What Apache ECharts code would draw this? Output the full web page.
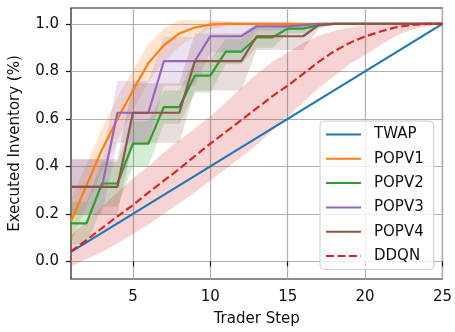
<!DOCTYPE html>
<html>
<head>
<meta charset="utf-8">
<script src="https://cdn.jsdelivr.net/npm/echarts@6/dist/echarts.min.js"></script>
<style>
  html, body { margin: 0; padding: 0; background: #fff; }
  #chart { width: 455px; height: 332px; }
</style>
</head>
<body>
<div id="chart"></div>
<script>
// trader steps 1..25
const steps = [1, 2, 3, 4, 5, 6, 7, 8, 9, 10, 11, 12, 13, 14, 15, 16, 17, 18, 19, 20, 21, 22, 23, 24, 25];

const twap = [0.04, 0.08, 0.12, 0.16, 0.20, 0.24, 0.28, 0.32, 0.36, 0.40, 0.44, 0.48, 0.52, 0.56, 0.60, 0.64, 0.68, 0.72, 0.76, 0.80, 0.84, 0.88, 0.92, 0.96, 1.00];

const popv1 = [0.17, 0.32, 0.47, 0.60, 0.72, 0.835, 0.91, 0.96, 0.985, 0.997, 1, 1, 1, 1, 1, 1, 1, 1, 1, 1, 1, 1, 1, 1, 1];
const popv1Lo = [0.08, 0.23, 0.38, 0.51, 0.635, 0.755, 0.84, 0.905, 0.95, 0.977, 0.99, 0.995, 1, 1, 1, 1, 1, 1, 1, 1, 1, 1, 1, 1, 1];
const popv1Hi = [0.26, 0.41, 0.56, 0.69, 0.805, 0.915, 0.98, 1.015, 1.015, 1.015, 1.01, 1.005, 1, 1, 1, 1, 1, 1, 1, 1, 1, 1, 1, 1, 1];

const popv2 = [0.16, 0.16, 0.328, 0.328, 0.496, 0.496, 0.65, 0.65, 0.782, 0.782, 0.883, 0.883, 0.943, 0.943, 0.98, 0.98, 0.995, 1, 1, 1, 1, 1, 1, 1, 1];
const popv2Lo = [0.07, 0.07, 0.23, 0.23, 0.40, 0.40, 0.58, 0.58, 0.71, 0.71, 0.83, 0.83, 0.90, 0.90, 0.96, 0.96, 0.985, 1, 1, 1, 1, 1, 1, 1, 1];
const popv2Hi = [0.25, 0.25, 0.42, 0.42, 0.59, 0.59, 0.72, 0.72, 0.85, 0.85, 0.935, 0.935, 0.985, 0.985, 1.0, 1.0, 1.0, 1, 1, 1, 1, 1, 1, 1, 1];

const popv3 = [0.314, 0.314, 0.314, 0.626, 0.626, 0.626, 0.843, 0.843, 0.843, 0.948, 0.948, 0.948, 0.99, 0.99, 0.99, 0.995, 1, 1, 1, 1, 1, 1, 1, 1, 1];
const popv3Lo = [0.20, 0.20, 0.20, 0.50, 0.50, 0.50, 0.74, 0.74, 0.74, 0.88, 0.88, 0.88, 0.97, 0.97, 0.97, 0.985, 1, 1, 1, 1, 1, 1, 1, 1, 1];
const popv3Hi = [0.43, 0.43, 0.43, 0.76, 0.76, 0.76, 0.945, 0.945, 0.945, 1.01, 1.01, 1.01, 1.01, 1.01, 1.01, 1.005, 1, 1, 1, 1, 1, 1, 1, 1, 1];

const popv4 = [0.314, 0.314, 0.314, 0.314, 0.626, 0.626, 0.626, 0.626, 0.843, 0.843, 0.843, 0.843, 0.948, 0.948, 0.948, 0.948, 0.995, 1, 1, 1, 1, 1, 1, 1, 1];
const popv4Lo = [0.20, 0.20, 0.20, 0.20, 0.50, 0.50, 0.50, 0.50, 0.72, 0.72, 0.72, 0.72, 0.89, 0.89, 0.89, 0.89, 0.98, 1, 1, 1, 1, 1, 1, 1, 1];
const popv4Hi = [0.43, 0.43, 0.43, 0.43, 0.75, 0.75, 0.75, 0.75, 0.96, 0.96, 0.96, 0.96, 1.0, 1.0, 1.0, 1.0, 1.005, 1, 1, 1, 1, 1, 1, 1, 1];

const ddqn = [0.042, 0.09, 0.14, 0.19, 0.237, 0.29, 0.34, 0.39, 0.443, 0.496, 0.545, 0.595, 0.645, 0.695, 0.74, 0.79, 0.84, 0.885, 0.92, 0.947, 0.968, 0.986, 0.995, 1.0, 1.0];
const ddqnLo = [-0.021, 0.01, 0.04, 0.075, 0.115, 0.155, 0.2, 0.245, 0.29, 0.34, 0.39, 0.44, 0.49, 0.55, 0.61, 0.67, 0.73, 0.78, 0.83, 0.87, 0.91, 0.95, 0.975, 0.99, 1.0];
const ddqnHi = [0.11, 0.17, 0.23, 0.29, 0.35, 0.40, 0.46, 0.51, 0.56, 0.61, 0.67, 0.73, 0.79, 0.84, 0.88, 0.92, 0.95, 0.97, 0.985, 0.995, 1, 1, 1, 1, 1];

const xTicks = [5, 10, 15, 20, 25];
const yTicks = [0, 0.2, 0.4, 0.6, 0.8, 1.0];

const FONT = 'DejaVu Sans';
const colors = {
  TWAP: '#1f77b4',
  POPV1: '#ff7f0e',
  POPV2: '#2ca02c',
  POPV3: '#9467bd',
  POPV4: '#8c564b',
  DDQN: '#d62728'
};

function fade(hex, a) {
  const n = parseInt(hex.slice(1), 16);
  return 'rgba(' + (n >> 16) + ',' + ((n >> 8) & 255) + ',' + (n & 255) + ',' + a + ')';
}

// shaded band drawn as one polygon through the axis scales
function band(name, lo, hi, color) {
  return {
    type: 'custom',
    name: name + ' band',
    z: 1,
    silent: true,
    data: steps.map((s, i) => [s, lo[i], hi[i]]),
    encode: { x: 0, y: [1, 2] },
    renderItem: function (params, api) {
      if (params.dataIndex !== 0) return;
      const top = [], bot = [];
      for (let i = 0; i < steps.length; i++) {
        top.push(api.coord([steps[i], hi[i]]));
        bot.push(api.coord([steps[i], lo[i]]));
      }
      return {
        type: 'polygon',
        shape: { points: top.concat(bot.reverse()) },
        style: { fill: fade(color, 0.2) }
      };
    }
  };
}

function line(name, vals, dashed) {
  return {
    type: 'line',
    name: name,
    z: 3,
    symbol: 'none',
    silent: true,
    data: steps.map((s, i) => [s, vals[i]]),
    lineStyle: { color: colors[name], width: 2.2, type: dashed ? [8, 3.5] : 'solid' },
    itemStyle: { color: colors[name] }
  };
}

const chart = echarts.init(document.getElementById('chart'));
chart.setOption({
  animation: false,
  grid: {
    left: 71, right: 12, top: 8, bottom: 51,
    show: true, borderColor: '#1a1a1a', borderWidth: 1.2, backgroundColor: 'transparent'
  },
  legend: {
    orient: 'vertical',
    left: 320,
    top: 121,
    data: ['TWAP', 'POPV1', 'POPV2', 'POPV3', 'POPV4', 'DDQN'],
    itemWidth: 35,
    itemHeight: 14,
    itemGap: 9.3,
    padding: [6, 10, 6, 5],
    backgroundColor: 'rgba(255,255,255,0.8)',
    borderColor: '#cccccc',
    borderWidth: 1,
    borderRadius: 4,
    itemStyle: { opacity: 0 },
    textStyle: { fontFamily: FONT, fontSize: 15, color: '#111', padding: [0, 0, 0, 8] }
  },
  xAxis: {
    type: 'value',
    min: 1,
    max: 25,
    name: 'Trader Step',
    nameLocation: 'middle',
    nameGap: 33,
    nameTextStyle: { fontFamily: FONT, fontSize: 15, color: '#111' },
    axisLine: { show: false },
    axisTick: { show: true, length: 5, lineStyle: { color: '#1a1a1a', width: 1.2 }, customValues: xTicks },
    axisLabel: { fontFamily: FONT, fontSize: 15, color: '#111', margin: 11, customValues: xTicks },
    splitLine: { show: true, lineStyle: { color: '#b0b0b0', width: 1.2 } }
  },
  yAxis: {
    type: 'value',
    min: -0.074,
    max: 1.067,
    name: 'Executed Inventory (%)',
    nameLocation: 'middle',
    nameGap: 48,
    nameTextStyle: { fontFamily: FONT, fontSize: 15, color: '#111' },
    axisLine: { show: false },
    axisTick: { show: true, length: 5, lineStyle: { color: '#1a1a1a', width: 1.2 }, customValues: yTicks },
    axisLabel: {
      fontFamily: FONT, fontSize: 15, color: '#111', margin: 12, customValues: yTicks,
      formatter: v => v.toFixed(1)
    },
    splitLine: { show: true, lineStyle: { color: '#b0b0b0', width: 1.2 } }
  },
  series: [
    band('POPV1', popv1Lo, popv1Hi, colors.POPV1),
    band('POPV2', popv2Lo, popv2Hi, colors.POPV2),
    band('POPV3', popv3Lo, popv3Hi, colors.POPV3),
    band('POPV4', popv4Lo, popv4Hi, colors.POPV4),
    band('DDQN', ddqnLo, ddqnHi, colors.DDQN),
    line('TWAP', twap),
    line('POPV1', popv1),
    line('POPV2', popv2),
    line('POPV3', popv3),
    line('POPV4', popv4),
    line('DDQN', ddqn, true)
  ]
});
</script>
</body>
</html>
